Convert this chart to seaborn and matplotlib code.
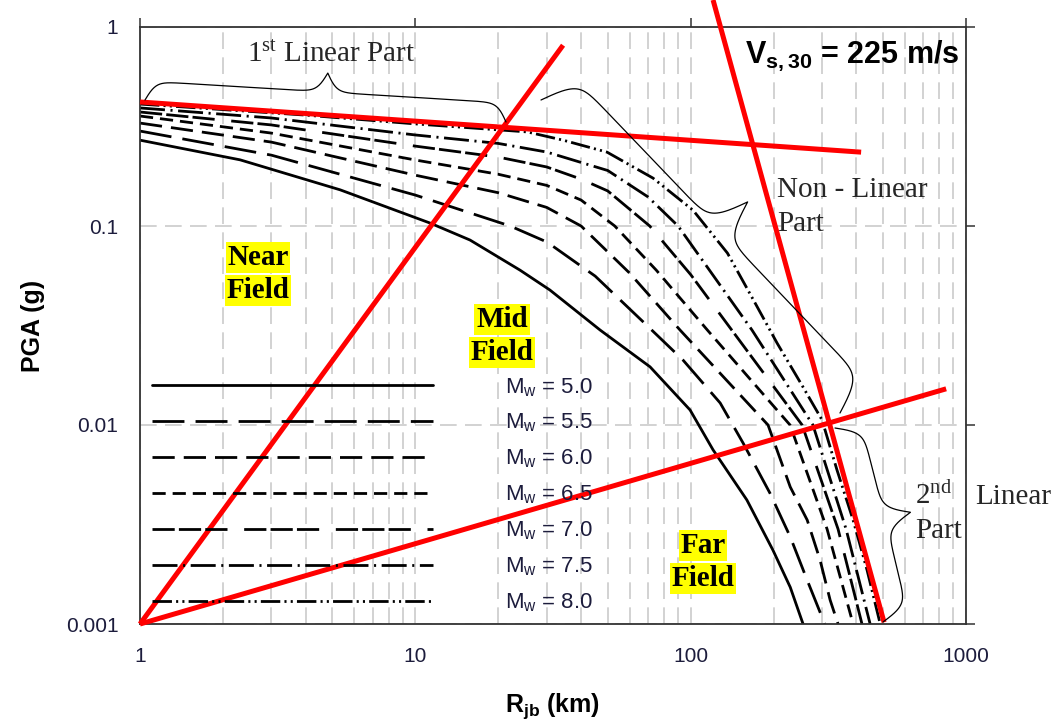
import numpy as np
import pandas as pd
import matplotlib
matplotlib.use("Agg")
import matplotlib.pyplot as plt
import matplotlib.ticker as mticker
import seaborn as sns

# ---------------------------------------------------------------- data
magnitudes = ["5.0", "5.5", "6.0", "6.5", "7.0", "7.5", "8.0"]

r_m50 = [1, 2.31, 5.33, 11.3, 15.8, 24.0, 30.8, 46.9, 71.2, 99.5, 120.6, 160, 199, 230, 256]
pga_m50 = [0.270, 0.215, 0.152, 0.1035, 0.085, 0.060, 0.0477, 0.030, 0.0196, 0.0119,
           0.0075, 0.0042, 0.00235, 0.00153, 0.001]

r_m55 = [1, 3, 10, 22.1, 30.1, 45, 67.2, 93.8, 128, 155, 194, 230, 265, 307]
pga_m55 = [0.300, 0.227, 0.143, 0.100, 0.083, 0.056, 0.033, 0.0212, 0.0129, 0.00812,
           0.00455, 0.00274, 0.00166, 0.001]

r_m60 = [1, 3, 10, 20, 30, 40, 60, 91.5, 191, 230, 265, 295, 321, 343]
pga_m60 = [0.329, 0.264, 0.180, 0.147, 0.124, 0.100, 0.058, 0.030, 0.010, 0.00488,
           0.00333, 0.0021, 0.00132, 0.001]

r_m65 = [1, 3, 10, 20, 30, 40, 53, 75, 115, 229.6, 312.9, 389]
pga_m65 = [0.357, 0.293, 0.2146, 0.182, 0.160, 0.135, 0.100, 0.060, 0.030, 0.010,
           0.003, 0.001]

r_m70 = [1, 3, 10, 20, 30, 40, 50, 71, 100, 141, 254, 343, 419]
pga_m70 = [0.374, 0.322, 0.252, 0.222, 0.198, 0.172, 0.150, 0.100, 0.057, 0.030, 0.010,
           0.003, 0.001]

r_m75 = [1, 3, 10, 20, 30, 50, 70, 90, 167, 278, 366.8, 448.5]
pga_m75 = [0.392, 0.349, 0.2867, 0.260, 0.2353, 0.190, 0.140, 0.100, 0.030, 0.010,
           0.003, 0.001]

r_m80 = [1, 3.97, 9.97, 25.5, 34.4, 49.7, 73, 102, 136, 169, 206, 256, 300, 340, 389, 437, 488]
pga_m80 = [0.410, 0.361, 0.326, 0.297, 0.270, 0.235, 0.174, 0.120, 0.0731, 0.0425, 0.0258,
           0.0155, 0.0106, 0.00594, 0.00333, 0.00187, 0.001]

# zone boundaries and linear / non-linear trend lines
near_mid_r, near_mid_pga = [1, 34.4], [0.001, 0.81]
mid_far_r, mid_far_pga = [1, 847], [0.001, 0.0152]
linear1_r, linear1_pga = [1, 416], [0.42, 0.235]
nonlin_r, nonlin_pga = [120.6, 504], [1.367, 0.00102]

x_ticks = [1, 10, 100, 1000]
x_tick_labels = ["1", "10", "100", "1000"]
y_ticks = [0.001, 0.01, 0.1, 1]
y_tick_labels = ["0.001", "0.01", "0.1", "1"]

# ---------------------------------------------------------------- style
sns.set_theme(style="white")
plt.rcParams["font.family"] = ["Liberation Sans", "DejaVu Sans"]
plt.rcParams["mathtext.default"] = "regular"
plt.rcParams["lines.scale_dashes"] = False

W, H = 1053, 727
fig, ax = plt.subplots(figsize=(W / 100, H / 100), dpi=100)
fig.subplots_adjust(left=140 / W, right=966 / W, top=1 - 27 / H, bottom=1 - 624 / H)


def fxy(px, py):
    return px / W, 1 - py / H


curves = [(r_m50, pga_m50), (r_m55, pga_m55), (r_m60, pga_m60), (r_m65, pga_m65),
          (r_m70, pga_m70), (r_m75, pga_m75), (r_m80, pga_m80)]
frames = []
for mag, (r, p) in zip(magnitudes, curves):
    frames.append(pd.DataFrame({"R": r, "PGA": p, "Mw": mag}))
df = pd.concat(frames, ignore_index=True)

dash_styles = {
    "5.0": "",
    "5.5": (23, 8),
    "6.0": (16, 6.5),
    "6.5": (9.5, 5),
    "7.0": (16, 3, 16, 3, 16, 12),
    "7.5": (18, 4, 1.5, 4),
    "8.0": (14, 3, 1.5, 3, 1.5, 3),
}
palette = {m: "black" for m in magnitudes}

ax.set_xscale("log")
ax.set_yscale("log")

sns.lineplot(data=df, x="R", y="PGA", hue="Mw", style="Mw", hue_order=magnitudes,
             style_order=magnitudes, palette=palette, dashes=dash_styles,
             estimator=None, linewidth=2.0, legend=False, ax=ax)
curve_lines = list(ax.lines[:len(magnitudes)])
for ln in curve_lines:
    ln.set_solid_joinstyle("round")
    ln.set_dash_joinstyle("round")

red_kw = dict(color="#ff0000", lw=3.6, clip_on=False, solid_capstyle="butt", zorder=5)
ax.plot(near_mid_r, near_mid_pga, **red_kw)
ax.plot(mid_far_r, mid_far_pga, **red_kw)
ax.plot(linear1_r, linear1_pga, **red_kw)
ax.plot(nonlin_r, nonlin_pga, **red_kw)

ax.set_xlim(1, 1000)
ax.set_ylim(0.001, 1)

# ---------------------------------------------------------------- axes
ax.xaxis.set_major_locator(mticker.FixedLocator(x_ticks))
ax.xaxis.set_major_formatter(mticker.FixedFormatter(x_tick_labels))
ax.yaxis.set_major_locator(mticker.FixedLocator(y_ticks))
ax.yaxis.set_major_formatter(mticker.FixedFormatter(y_tick_labels))
ax.xaxis.set_minor_locator(mticker.LogLocator(base=10, subs=np.arange(2, 10), numticks=20))
ax.xaxis.set_minor_formatter(mticker.NullFormatter())
ax.yaxis.set_minor_locator(mticker.NullLocator())

tick_color = "#1c1c3c"
ax.tick_params(which="major", direction="out", top=True, right=True, labeltop=False,
               labelright=False, length=6.5, width=1.1, color="#333333",
               labelsize=15, labelcolor=tick_color)
ax.tick_params(axis="x", which="major", pad=10)
ax.tick_params(axis="y", which="major", pad=9)
ax.tick_params(which="minor", length=0)

grid_kw = dict(color="#c6c6c6", linestyle=(0, (12, 6)), linewidth=1.1)
ax.grid(which="major", axis="both", **grid_kw)
ax.grid(which="minor", axis="x", **grid_kw)
ax.set_axisbelow(True)

for sp in ax.spines.values():
    sp.set_color("#333333")
    sp.set_linewidth(1.3)

ax.set_xlabel("R$_{jb}$ (km)", fontsize=18, fontweight="bold", color="black")
ax.set_ylabel("PGA (g)", fontsize=18, fontweight="bold", color="black")
ax.xaxis.set_label_coords(0.5, -0.113)
ax.yaxis.set_label_coords(-0.115, 0.5)

# ---------------------------------------------------------------- legend
ax.legend(handles=curve_lines, labels=[f"M$_w$ = {m}" for m in magnitudes],
          loc="upper left", bbox_to_anchor=(0.0145, 0.4155), frameon=False,
          handlelength=12.66, handletextpad=3.24, labelspacing=0.6, borderpad=0,
          borderaxespad=0, fontsize=16, labelcolor=tick_color)

# ---------------------------------------------------------------- annotations
serif = ["Liberation Serif", "DejaVu Serif"]

fig.text(*fxy(745, 63), "V$_{s,30}$ = 225 m/s", fontsize=22, fontweight="bold",
         ha="left", va="baseline", color="black")

fig.text(*fxy(247, 62), "1$^{st}$ Linear Part", family=serif, fontsize=21,
         ha="left", va="baseline")
fig.text(*fxy(777, 197), "Non - Linear", family=serif, fontsize=21, ha="left", va="baseline")
fig.text(*fxy(777, 231), "Part", family=serif, fontsize=21, ha="left", va="baseline")
fig.text(*fxy(915, 504), "2$^{nd}$", family=serif, fontsize=21, ha="left", va="baseline")
fig.text(*fxy(915, 538), "Part", family=serif, fontsize=21, ha="left", va="baseline")
fig.text(*fxy(975, 504), "Linear", family=serif, fontsize=21, ha="left", va="baseline")


def zone_label(px, py_lines, words):
    for py, w in zip(py_lines, words):
        fig.text(*fxy(px, py), w, family=serif, fontsize=21, fontweight="bold",
                 ha="center", va="baseline", color="black", zorder=6,
                 bbox=dict(boxstyle="square,pad=0.06", fc="#ffff00", ec="none"))


zone_label(258, (265, 298), ("Near", "Field"))
zone_label(502, (327, 360), ("Mid", "Field"))
zone_label(703, (553, 586), ("Far", "Field"))


def curly_brace(p1, p2, tip_hint, depth, beta):
    p1 = np.asarray(p1, float)
    p2 = np.asarray(p2, float)
    d = p2 - p1
    L = np.hypot(*d)
    u = d / L
    n = np.array([-u[1], u[0]])
    mid = (p1 + p2) / 2
    if np.dot(np.asarray(tip_hint) - mid, n) < 0:
        n = -n
    s = np.linspace(0, L / 2, 300)
    h = 1 / (1 + np.exp(-beta * (s - s[0]))) + 1 / (1 + np.exp(-beta * (s - s[-1])))
    h = h - 0.5
    s_full = np.concatenate([s, L - s[::-1][1:]])
    h_full = np.concatenate([h, h[::-1][1:]])
    pts = p1[None, :] + s_full[:, None] * u[None, :] + (h_full * depth)[:, None] * n[None, :]
    fx = pts[:, 0] / W
    fy = 1 - pts[:, 1] / H
    fig.add_artist(plt.Line2D(fx, fy, color="black", lw=0.9, transform=fig.transFigure))


curly_brace((145, 100), (506, 122), (330, 60), 38, 0.2)
curly_brace((541, 100), (840, 413), (748, 202), 79, 0.15)
curly_brace((835, 428), (883, 622), (910, 513), 53, 0.18)

fig.savefig("out.png", dpi=100)
